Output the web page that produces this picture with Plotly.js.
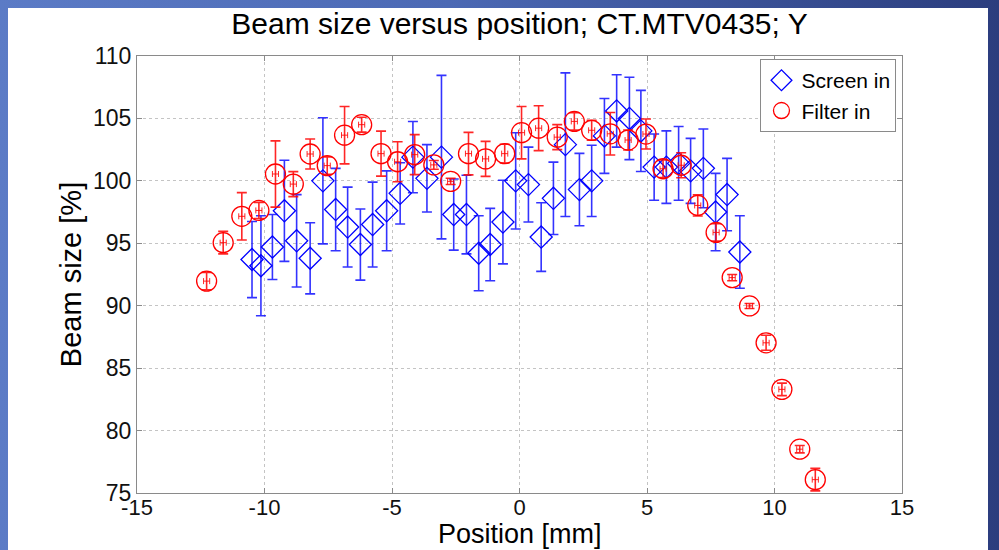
<!DOCTYPE html>
<html>
<head>
<meta charset="utf-8">
<script src="https://cdn.plot.ly/plotly-3.0.1.min.js"></script>
<style>
  html, body { margin:0; padding:0; width:999px; height:550px; overflow:hidden;
    background: linear-gradient(to right, #5b7bc6 0%, #4c69b4 45%, #2b3d7e 100%); }
  #panel { position:absolute; left:8px; top:8px; width:980px; height:542px; background:#fff; }
  #chart { position:absolute; left:0; top:0; width:999px; height:550px; }
</style>
</head>
<body>
<div id="panel"></div>
<div id="chart"></div>
<script>
// Screen in (blue diamonds)
const screenX   = [-10.49,-10.14,-9.69,-9.22,-8.74,-8.21,-7.71,-7.21,-6.74,-6.24,-5.76,-5.21,-4.68,-4.18,-3.63,-3.06,-2.58,-2.08,-1.60,-1.15,-0.65,-0.15,0.35,0.85,1.33,1.80,2.35,2.83,3.33,3.81,4.31,4.76,5.28,5.76,6.24,6.71,7.21,7.69,8.14,8.64];
const screenY   = [93.7,93.2,94.7,97.6,95.2,93.8,100.0,97.7,96.3,94.9,96.5,97.6,99.0,101.9,100.2,101.9,97.3,97.3,94.2,94.9,96.7,100.0,99.7,95.5,98.6,102.9,99.3,100.0,103.6,105.6,105.0,104.0,101.1,101.1,101.4,100.8,101.0,97.5,98.9,94.3];
const screenErr = [3.05,4.0,2.6,4.05,3.7,2.85,5.05,3.3,3.2,2.85,3.4,3.2,2.45,2.85,2.7,6.55,2.85,3.15,3.0,2.9,3.35,3.85,3.0,2.75,2.9,5.75,2.9,2.85,3.0,2.9,3.3,3.25,2.65,2.9,2.95,2.6,3.15,3.1,2.9,2.9];

// Filter in (red circles)
const filterX   = [-12.27,-11.62,-10.89,-10.22,-9.57,-8.87,-8.21,-7.54,-6.86,-6.19,-5.43,-4.78,-4.11,-3.36,-2.70,-2.00,-1.33,-0.58,0.08,0.75,1.48,2.15,2.83,3.56,4.26,4.96,5.63,6.34,6.99,7.71,8.34,9.02,9.67,10.29,10.99,11.60];
const filterY   = [91.97,95.05,97.16,97.63,100.55,99.74,102.15,101.22,103.66,104.5,102.18,101.53,102.1,101.28,99.96,102.18,101.76,102.18,103.86,104.22,103.5,104.76,104.05,103.77,103.27,103.75,100.97,101.25,98.03,95.87,92.25,89.98,87.03,83.3,78.51,76.07];
const filterErr = [0.7,0.9,1.9,0.65,2.65,1.0,1.2,0.7,2.3,0.6,1.8,1.6,1.6,0.35,0.25,1.7,1.4,0.75,2.1,1.8,1.0,0.7,0.8,1.7,0.8,1.2,0.7,1.0,0.85,0.7,0.25,0.2,0.6,0.5,0.3,0.9];
const filterXErr = 0.12;

const xTicks = [-15,-10,-5,0,5,10,15];
const yTicks = [75,80,85,90,95,100,105,110];

const FONT = 'Liberation Sans, Arial, sans-serif';

const traces = [
  {
    x: screenX, y: screenY, name: 'Screen in', type: 'scatter', mode: 'markers',
    marker: {symbol: 'diamond-open', size: 17, color: '#0000ff', line: {width: 1.3, color: 'rgba(0,0,255,0.85)'}},
    error_y: {type: 'data', array: screenErr, visible: true, color: 'rgba(0,0,255,0.8)', thickness: 1.6, width: 5}
  },
  {
    x: filterX, y: filterY, name: 'Filter in', type: 'scatter', mode: 'markers',
    marker: {symbol: 'circle-open', size: 20, color: '#ff0000', line: {width: 1.3, color: 'rgba(255,0,0,0.8)'}},
    error_y: {type: 'data', array: filterErr, visible: true, color: 'rgba(255,0,0,0.85)', thickness: 1.6, width: 5},
    error_x: {type: 'constant', value: filterXErr, visible: true, color: 'rgba(255,0,0,0.85)', thickness: 1, width: 3}
  }
];

const axisCommon = {
  showgrid: true, gridcolor: '#c4c4c4', griddash: 'dot', gridwidth: 1,
  zeroline: false, showline: true, linecolor: '#8a8a8a', linewidth: 1, mirror: 'ticks',
  ticks: 'inside', ticklen: 5, tickcolor: '#8a8a8a',
  tickfont: {family: FONT, size: 23, color: '#111'}
};

const layout = {
  width: 999, height: 550,
  paper_bgcolor: 'rgba(0,0,0,0)', plot_bgcolor: '#ffffff',
  margin: {l: 137, r: 97, t: 56, b: 57},
  title: {text: 'Beam size versus position; CT.MTV0435; Y', x: 0.52, xanchor: 'center', y: 0.958, yanchor: 'middle',
          font: {family: FONT, size: 30, color: '#000'}},
  xaxis: Object.assign({}, axisCommon, {
    range: [-15, 15], tickvals: xTicks, ticktext: xTicks.map(String),
    ticklabelstandoff: -5,
    tickfont: {family: FONT, size: 22, color: '#111'}
  }),
  yaxis: Object.assign({}, axisCommon, {
    range: [75, 110], tickvals: yTicks, ticktext: yTicks.map(String),
    title: {text: 'Beam size [%]', standoff: 2, font: {family: FONT, size: 29, color: '#000'}}
  }),
  annotations: [{
    text: 'Position [mm]', xref: 'paper', yref: 'paper', x: 0.5, y: -0.0938,
    xanchor: 'center', yanchor: 'middle', showarrow: false, borderpad: 0,
    font: {family: FONT, size: 27, color: '#000'}
  }],
  showlegend: true,
  legend: {x: 0.815, xanchor: 'left', y: 0.993, yanchor: 'top', bgcolor: '#ffffff',
           bordercolor: '#8a8a8a', borderwidth: 1, itemwidth: 30, tracegroupgap: 0,
           font: {family: FONT, size: 21, color: '#000'}}
};

Plotly.newPlot('chart', traces, layout, {displayModeBar: false, staticPlot: true});
</script>
</body>
</html>
